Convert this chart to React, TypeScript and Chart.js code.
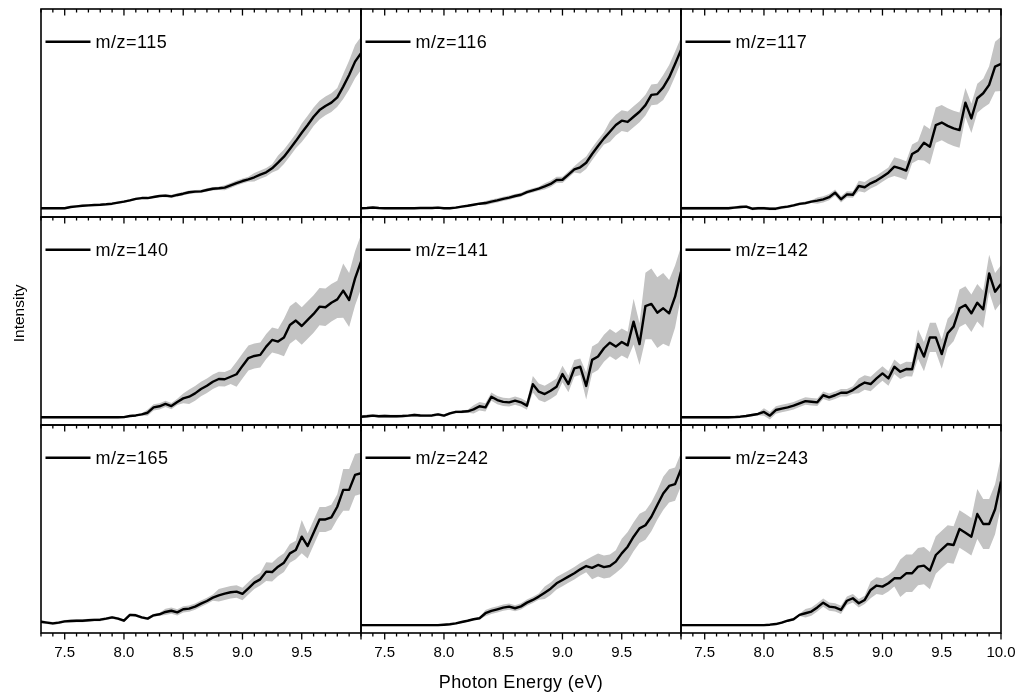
import React, { useEffect, useRef } from 'react';
import { Chart, registerables } from 'chart.js';

Chart.register(...registerables);

const FONT = '"Liberation Sans", Arial, Helvetica, sans-serif';
const BAND = '#c3c3c3';

// Photon energy grid (eV)
const ENERGY = [
  7.30, 7.35, 7.40, 7.45, 7.50, 7.55, 7.60, 7.65, 7.70, 7.75,
  7.80, 7.85, 7.90, 7.95, 8.00, 8.05, 8.10, 8.15, 8.20, 8.25,
  8.30, 8.35, 8.40, 8.45, 8.50, 8.55, 8.60, 8.65, 8.70, 8.75,
  8.80, 8.85, 8.90, 8.95, 9.00, 9.05, 9.10, 9.15, 9.20, 9.25,
  9.30, 9.35, 9.40, 9.45, 9.50, 9.55, 9.60, 9.65, 9.70, 9.75,
  9.80, 9.85, 9.90, 9.95, 10.00,
];

const TICK_POSITIONS = [
  7.3, 7.4, 7.5, 7.6, 7.7, 7.8, 7.9, 8.0, 8.1, 8.2, 8.3, 8.4, 8.5, 8.6,
  8.7, 8.8, 8.9, 9.0, 9.1, 9.2, 9.3, 9.4, 9.5, 9.6, 9.7, 9.8, 9.9, 10.0,
];
const MAJOR_TICKS = [7.5, 8.0, 8.5, 9.0, 9.5, 10.0];
const X_TICK_VALUES = [7.5, 8.0, 8.5, 9.0, 9.5, 10.0];
const X_TICK_LABELS = ['7.5', '8.0', '8.5', '9.0', '9.5', '10.0'];
const X_MIN = 7.3;
const X_MAX = 10.0;
const X_TITLE = 'Photon Energy (eV)';
const Y_TITLE = 'Intensity';

const MZ_LABELS = ['m/z=115', 'm/z=116', 'm/z=117', 'm/z=140', 'm/z=141', 'm/z=142', 'm/z=165', 'm/z=242', 'm/z=243'];

// Intensities (arbitrary units) and uncertainties
const I115 = [
  4.2, 4.2, 4.2, 4.2, 4.2, 4.8, 5.1, 5.4, 5.6, 5.8,
  5.9, 6.1, 6.4, 6.9, 7.4, 8.0, 8.7, 9.1, 9.1, 9.6,
  10.1, 10.3, 9.9, 10.6, 11.2, 11.9, 12.2, 12.3, 13.0, 13.6,
  13.8, 14.1, 15.2, 16.3, 17.3, 18.1, 19.1, 20.4, 21.5, 23.4,
  26.1, 29.0, 32.7, 36.5, 40.5, 44.2, 48.2, 51.4, 53.4, 55.0,
  57.5, 62.7, 68.3, 74.7, 78.7,
];
const E115 = [
  0.5, 0.5, 0.5, 0.5, 0.5, 0.5, 0.5, 0.5, 0.5, 0.5,
  0.5, 0.5, 0.5, 0.5, 0.5, 0.5, 0.5, 0.5, 0.5, 0.5,
  0.5, 0.8, 0.8, 0.8, 0.8, 0.8, 0.8, 0.8, 0.8, 0.8,
  0.8, 1.2, 1.2, 1.2, 1.2, 1.2, 2, 2, 2, 2,
  3.5, 3.5, 3.5, 3.5, 4.5, 4.5, 4.5, 4.5, 4.5, 4.5,
  4.5, 6, 7, 8, 8,
];

const I116 = [
  4.2, 4.3, 4.6, 4.3, 4.2, 4.2, 4.2, 4.2, 4.2, 4.2,
  4.3, 4.3, 4.3, 4.5, 4.2, 4.2, 4.5, 5.0, 5.4, 5.9,
  6.4, 6.7, 7.4, 8.0, 8.7, 9.3, 10.1, 10.7, 12.0, 12.8,
  13.6, 14.7, 15.9, 17.8, 17.9, 20.4, 22.9, 23.9, 26.1, 30.3,
  34.1, 37.8, 41.0, 44.2, 46.3, 45.7, 48.2, 50.6, 53.8, 58.7,
  59.1, 62.3, 67.1, 73.6, 80.3,
];
const E116 = [
  0.5, 0.5, 0.5, 0.5, 0.5, 0.5, 0.5, 0.5, 0.5, 0.5,
  0.5, 0.5, 0.5, 0.5, 0.5, 0.5, 0.5, 0.5, 0.5, 0.5,
  0.5, 1, 1, 1, 1, 1, 1, 1, 1, 1,
  1, 1.5, 1.5, 1.5, 1.5, 1.5, 1.5, 3, 3, 3,
  3, 3, 5, 5, 5, 5, 5, 5, 5, 5,
  5, 6, 6, 6, 6,
];

const I117 = [
  4.2, 4.2, 4.2, 4.2, 4.2, 4.2, 4.2, 4.2, 4.2, 4.5,
  4.8, 5.0, 4.0, 4.2, 4.2, 4.0, 4.0, 4.6, 5.0, 5.6,
  6.3, 6.7, 7.4, 7.9, 8.5, 9.5, 11.7, 8.5, 10.9, 10.7,
  14.9, 14.3, 16.2, 17.5, 19.4, 21.3, 24.2, 23.4, 22.3, 30.3,
  31.9, 35.7, 33.8, 44.2, 45.4, 43.8, 42.6, 41.8, 55.0, 47.4,
  57.1, 59.5, 63.5, 72.3, 73.6,
];
const E117 = [
  0.7, 0.7, 0.7, 0.7, 0.7, 0.7, 0.7, 0.7, 0.7, 0.7,
  0.7, 0.7, 0.7, 0.7, 0.7, 0.7, 0.7, 0.7, 0.7, 0.7,
  0.7, 0.7, 0.7, 1.5, 1.5, 1.5, 1.5, 1.5, 1.5, 1.5,
  2.5, 2.5, 2.5, 2.5, 2.5, 2.5, 4.5, 4.5, 4.5, 4.5,
  4.5, 8.5, 8.5, 8.5, 8.5, 8.5, 8.5, 8.5, 7, 7,
  7, 7, 9, 12, 13,
];

const I140 = [
  3.7, 3.7, 3.7, 3.7, 3.7, 3.7, 3.7, 3.7, 3.7, 3.7,
  3.7, 3.7, 3.7, 3.7, 3.8, 4.3, 4.6, 5.1, 5.9, 8.5,
  9.0, 10.1, 9.1, 11.1, 12.8, 13.6, 15.2, 17.3, 18.9, 20.8,
  22.1, 22.0, 23.2, 24.4, 28.4, 32.2, 33.2, 33.7, 37.7, 40.9,
  40.1, 42.1, 48.1, 50.2, 47.6, 50.5, 53.4, 56.9, 56.6, 58.8,
  60.4, 64.6, 60.1, 70.5, 78.5,
];
const E140 = [
  0.5, 0.5, 0.5, 0.5, 0.5, 0.5, 0.5, 0.5, 0.5, 0.5,
  0.5, 0.5, 0.5, 0.5, 0.5, 0.5, 0.5, 0.5, 1.5, 1.5,
  1.5, 1.5, 1.5, 1.5, 2.4, 3.5, 3.5, 3.5, 3.5, 3.5,
  3.5, 3.5, 3.5, 6, 6, 6, 6, 6, 6, 6,
  6, 9, 9, 9, 9, 9, 9, 9, 9, 9,
  9, 13, 13, 13, 13,
];

const I141 = [
  4.0, 4.2, 4.5, 4.2, 4.3, 4.2, 4.2, 4.3, 4.5, 4.8,
  4.6, 4.5, 4.6, 5.1, 4.5, 5.6, 6.3, 6.4, 6.6, 7.5,
  9.0, 8.5, 13.6, 12.0, 11.1, 10.9, 11.7, 10.9, 9.3, 19.6,
  16.0, 14.9, 16.5, 18.4, 24.5, 19.7, 27.2, 28.0, 18.8, 31.3,
  32.9, 36.9, 39.6, 37.7, 39.9, 38.3, 49.7, 38.9, 57.2, 58.2,
  54.0, 56.1, 53.7, 61.7, 73.7,
];
const E141 = [
  0.7, 0.7, 0.7, 0.7, 0.7, 0.7, 0.7, 0.7, 0.7, 0.7,
  0.7, 0.7, 0.7, 0.7, 0.7, 0.7, 0.7, 0.7, 0.7, 2,
  2, 2, 2, 2, 2, 2, 2, 2, 2, 4,
  4, 4, 4, 4, 4, 4, 4, 4, 6.5, 6.5,
  6.5, 6.5, 6.5, 6.5, 6.5, 6.5, 11, 10, 16, 17,
  17, 17, 16, 15, 12,
];

const I142 = [
  3.7, 3.7, 3.7, 3.7, 3.7, 3.7, 3.7, 3.7, 3.7, 3.8,
  4.0, 4.3, 4.8, 5.3, 6.3, 4.5, 7.2, 7.9, 8.5, 9.3,
  10.4, 11.5, 11.2, 10.9, 14.3, 13.3, 14.3, 15.5, 15.5, 16.8,
  18.8, 20.4, 19.7, 22.4, 24.8, 22.4, 28.0, 25.6, 26.9, 26.8,
  38.9, 32.9, 42.1, 42.1, 34.1, 44.1, 47.3, 56.1, 57.7, 53.7,
  58.8, 55.6, 72.9, 64.1, 67.8,
];
const E142 = [
  0.6, 0.6, 0.6, 0.6, 0.6, 0.6, 0.6, 0.6, 0.6, 0.6,
  0.6, 0.6, 0.6, 0.6, 1.8, 1.8, 1.8, 1.8, 1.8, 1.8,
  1.8, 1.8, 1.8, 1.8, 1.8, 1.8, 1.8, 1.8, 1.8, 1.8,
  3.5, 3.5, 3.5, 3.5, 3.5, 3.5, 3.5, 3.5, 3.5, 3.5,
  7, 7, 7, 7, 7, 7, 7, 9, 9, 9,
  9, 9, 9, 9, 9,
];

const I165 = [
  5.4, 5.0, 4.6, 5.0, 5.6, 5.8, 5.9, 5.9, 6.1, 6.3,
  6.4, 6.9, 7.5, 6.9, 5.9, 8.7, 8.5, 7.5, 6.9, 8.5,
  9.0, 10.1, 10.7, 9.9, 11.4, 11.7, 12.7, 14.1, 15.4, 17.0,
  18.1, 18.9, 19.6, 19.9, 18.8, 21.5, 24.2, 25.8, 29.5, 29.3,
  31.9, 33.8, 38.3, 39.9, 46.3, 41.8, 48.2, 54.6, 54.6, 55.6,
  60.7, 68.8, 68.8, 76.0, 76.8,
];
const E165 = [
  0.7, 0.7, 0.7, 0.7, 0.7, 0.7, 0.7, 0.7, 0.7, 0.7,
  0.7, 0.7, 0.7, 0.7, 0.7, 0.7, 0.7, 0.7, 0.7, 0.7,
  0.7, 1.5, 1.5, 1.5, 1.5, 1.5, 1.5, 1.5, 1.5, 1.5,
  3, 3, 3, 3, 3, 3, 3, 3, 4.5, 4.5,
  4.5, 4.5, 4.5, 4.5, 8, 6, 6, 6, 6, 6,
  6, 10, 10, 10, 10,
];

const I242 = [
  3.8, 3.8, 3.8, 3.8, 3.8, 3.8, 3.8, 3.8, 3.8, 3.8,
  3.8, 3.8, 3.8, 3.8, 4.0, 4.2, 4.6, 5.3, 5.9, 6.6,
  7.1, 9.5, 10.6, 11.4, 12.2, 12.7, 11.9, 12.8, 14.6, 15.9,
  17.5, 19.4, 21.3, 23.9, 25.5, 27.1, 28.7, 30.6, 32.2, 31.3,
  32.7, 31.7, 32.2, 34.3, 38.3, 41.5, 46.3, 50.3, 51.8, 55.9,
  61.5, 67.1, 70.7, 71.6, 78.7,
];
const E242 = [
  0.5, 0.5, 0.5, 0.5, 0.5, 0.5, 0.5, 0.5, 0.5, 0.5,
  0.5, 0.5, 0.5, 0.5, 0.5, 0.5, 0.5, 0.5, 0.5, 0.5,
  0.5, 1.5, 1.5, 1.5, 1.5, 1.5, 1.5, 1.5, 1.5, 1.5,
  1.5, 3, 3, 3, 3, 3, 3, 3, 3, 5.5,
  5.5, 5.5, 5.5, 5.5, 7, 7, 7, 7, 7, 7,
  7, 8, 8, 8, 8,
];

const I243 = [
  3.8, 3.8, 3.8, 3.8, 3.8, 3.8, 3.8, 3.8, 3.8, 3.8,
  3.8, 3.8, 3.8, 3.8, 3.8, 4.0, 4.3, 5.0, 5.9, 6.6,
  8.7, 9.5, 10.3, 12.3, 14.6, 12.7, 12.3, 11.1, 15.5, 16.7,
  14.3, 15.9, 20.7, 22.8, 22.3, 23.9, 26.3, 26.3, 28.7, 28.7,
  31.9, 32.4, 30.0, 37.5, 40.2, 42.8, 42.3, 50.0, 48.2, 46.3,
  57.2, 52.4, 52.4, 59.5, 72.8,
];
const E243 = [
  0.5, 0.5, 0.5, 0.5, 0.5, 0.5, 0.5, 0.5, 0.5, 0.5,
  0.5, 0.5, 0.5, 0.5, 0.5, 0.5, 0.5, 0.5, 0.5, 0.5,
  0.5, 2, 2, 2, 2, 2, 2, 2, 2, 2,
  2, 2, 4, 4, 4, 4, 4, 9, 9, 9,
  9, 9, 9, 9, 9, 9, 9, 9, 9, 9,
  12, 12, 12, 12, 12,
];

const SERIES = [I115, I116, I117, I140, I141, I142, I165, I242, I243];
const ERRORS = [E115, E116, E117, E140, E141, E142, E165, E242, E243];

// Layout of the 3x3 grid (pixels)
const COL_LEFT = [41, 361, 681];
const ROW_TOP = [9, 217, 425];
const PANEL_W = 320;
const PANEL_H = 208;

const framePlugin = {
  id: 'frame',
  afterDatasetsDraw(chart: any, _args: any, opts: any) {
    const { ctx, chartArea } = chart;
    const { left, right, top, bottom } = chartArea;
    const xs = chart.scales.x;
    ctx.save();
    // frame
    ctx.strokeStyle = '#000';
    ctx.lineWidth = 1.6;
    ctx.strokeRect(left, top, right - left, bottom - top);
    // tick marks
    ctx.lineWidth = 1.3;
    ctx.beginPath();
    for (const v of TICK_POSITIONS) {
      const px = xs.getPixelForValue(v);
      const major = MAJOR_TICKS.some((m) => Math.abs(m - v) < 1e-6);
      ctx.moveTo(px, top);
      ctx.lineTo(px, top + (major ? 6.5 : 3.5));
      if (opts.bottomTicks) {
        ctx.moveTo(px, bottom);
        ctx.lineTo(px, bottom + (major ? 6.5 : 3.5));
      }
    }
    ctx.stroke();
    // legend
    const label = chart.data.datasets[0].label;
    ctx.lineWidth = 2.6;
    ctx.beginPath();
    ctx.moveTo(left + 4.5, top + 32.8);
    ctx.lineTo(left + 49.5, top + 32.8);
    ctx.stroke();
    ctx.fillStyle = '#000';
    ctx.font = `18px ${FONT}`;
    ctx.textAlign = 'left';
    ctx.textBaseline = 'alphabetic';
    (ctx as any).letterSpacing = '0.5px';
    ctx.fillText(label, left + 54.5, top + 39);
    (ctx as any).letterSpacing = '0px';
    // axis titles
    if (opts.yTitle) {
      ctx.save();
      ctx.translate(opts.yTitle.x, opts.yTitle.y);
      ctx.rotate(-Math.PI / 2);
      ctx.font = `15.5px ${FONT}`;
      ctx.textAlign = 'center';
      ctx.textBaseline = 'alphabetic';
      ctx.fillText(opts.yTitle.text, 0, 0);
      ctx.restore();
    }
    if (opts.xTitle) {
      ctx.font = `18px ${FONT}`;
      ctx.textAlign = 'center';
      ctx.textBaseline = 'alphabetic';
      (ctx as any).letterSpacing = '0.35px';
      ctx.fillText(opts.xTitle.text, (left + right) / 2, opts.xTitle.y);
      (ctx as any).letterSpacing = '0px';
    }
    ctx.restore();
  },
};

function Panel({ idx }: { idx: number }) {
  const ref = useRef<HTMLCanvasElement>(null);
  const row = Math.floor(idx / 3);
  const col = idx % 3;
  const padL = col === 0 ? 41 : 10;
  const padR = col === 2 ? 32 : 10;
  const padT = row === 0 ? 9 : 10;
  const padB = row === 2 ? 61 : 10;
  const W = PANEL_W + padL + padR;
  const H = PANEL_H + padT + padB;
  const canvasLeft = COL_LEFT[col] - padL;
  const canvasTop = ROW_TOP[row] - padT;
  const isBottom = row === 2;

  useEffect(() => {
    if (!ref.current) return;
    const values = SERIES[idx];
    const errs = ERRORS[idx];
    const tickVals = col === 2 ? X_TICK_VALUES : X_TICK_VALUES.slice(0, 5);
    const tickLabs = col === 2 ? X_TICK_LABELS : X_TICK_LABELS.slice(0, 5);

    const xScale: any = {
      type: 'linear',
      min: X_MIN,
      max: X_MAX,
      display: isBottom,
      position: 'bottom',
      grid: { display: false, drawTicks: false },
      border: { display: false },
      ticks: {
        padding: 11,
        maxRotation: 0,
        autoSkip: false,
        color: '#000',
        font: { family: FONT, size: 15 },
        callback: (_v: any, i: number) => tickLabs[i],
      },
    };
    if (isBottom) {
      xScale.afterBuildTicks = (s: any) => {
        s.ticks = tickVals.map((v) => ({ value: v }));
      };
      xScale.afterFit = (s: any) => {
        s.height = padB;
      };
    }

    const frameOpts: any = { bottomTicks: isBottom };
    if (idx === 3) {
      frameOpts.yTitle = { text: Y_TITLE, x: 24 - canvasLeft, y: 313.4 - canvasTop };
    }
    if (idx === 7) {
      frameOpts.xTitle = { text: X_TITLE, y: 688 - canvasTop };
    }

    const chart = new Chart(ref.current, {
      type: 'line',
      data: {
        datasets: [
          {
            label: MZ_LABELS[idx],
            data: ENERGY.map((x, i) => ({ x, y: values[i] })),
            borderColor: '#000',
            borderWidth: 2.4,
            borderJoinStyle: 'round',
            pointRadius: 0,
            tension: 0,
            fill: false,
            order: 0,
          },
          {
            label: 'upper',
            data: ENERGY.map((x, i) => ({ x, y: values[i] + errs[i] })),
            borderColor: 'rgba(0,0,0,0)',
            borderWidth: 0,
            pointRadius: 0,
            tension: 0,
            fill: false,
            order: 1,
          },
          {
            label: 'lower',
            data: ENERGY.map((x, i) => ({ x, y: values[i] - errs[i] })),
            borderColor: 'rgba(0,0,0,0)',
            backgroundColor: BAND,
            borderWidth: 0,
            pointRadius: 0,
            tension: 0,
            fill: '-1',
            order: 2,
          },
        ],
      } as any,
      options: {
        responsive: false,
        animation: false,
        devicePixelRatio: 1,
        events: [],
        layout: {
          padding: { left: padL, right: padR, top: padT, bottom: isBottom ? 0 : padB },
        },
        plugins: {
          legend: { display: false },
          tooltip: { enabled: false },
          title: { display: false },
          frame: frameOpts,
        } as any,
        scales: {
          x: xScale,
          y: { type: 'linear', min: 0, max: 100, display: false },
        },
      },
      plugins: [framePlugin as any],
    });
    return () => chart.destroy();
  }, []);

  return (
    <canvas
      ref={ref}
      width={W}
      height={H}
      style={{ position: 'absolute', left: canvasLeft, top: canvasTop, width: W, height: H, display: 'block' }}
    />
  );
}

export default function App() {
  return (
    <div style={{ position: 'absolute', left: 0, top: 0, width: 1020, height: 694, background: '#fff', overflow: 'hidden' }}>
      {MZ_LABELS.map((_, i) => (
        <Panel key={i} idx={i} />
      ))}
    </div>
  );
}
